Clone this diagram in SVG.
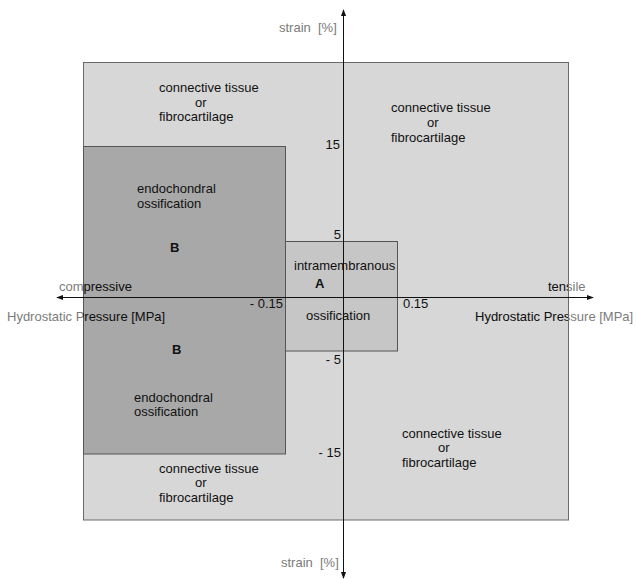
<svg xmlns="http://www.w3.org/2000/svg" width="636" height="579" viewBox="0 0 636 579">
<style>
text{font-family:"Liberation Sans",Arial,sans-serif;font-size:13px;fill:#111}
.b{font-weight:bold}
.g{fill:#7a7a7a}
.h{fill:url(#hg)}
.ax{stroke:#111;stroke-width:1;fill:none}
</style>
<defs>
<linearGradient id="hg" gradientUnits="userSpaceOnUse" x1="0" y1="0" x2="636" y2="0">
<stop offset="0" stop-color="#7a7a7a"/>
<stop offset="0.1305" stop-color="#7a7a7a"/>
<stop offset="0.1305" stop-color="#111"/>
<stop offset="0.893" stop-color="#111"/>
<stop offset="0.893" stop-color="#7a7a7a"/>
<stop offset="1" stop-color="#7a7a7a"/>
</linearGradient>
<marker id="ah" viewBox="0 0 8 8" refX="7" refY="4" markerWidth="7" markerHeight="7" orient="auto-start-reverse" markerUnits="userSpaceOnUse">
<path d="M0,1 L8,4 L0,7 Z" fill="#111"/>
</marker>
</defs>
<rect width="636" height="579" fill="#fff"/>
<g id="region-outer">
<rect x="83.5" y="62.5" width="485" height="457.5" fill="#d7d7d7" stroke="#6a6a6a" stroke-width="1"/>
<text x="159" y="92">connective tissue</text>
<text x="195" y="107">or</text>
<text x="159" y="121">fibrocartilage</text>
<text x="391" y="112">connective tissue</text>
<text x="427" y="127">or</text>
<text x="391" y="142">fibrocartilage</text>
<text x="159" y="473">connective tissue</text>
<text x="195" y="487">or</text>
<text x="159" y="502">fibrocartilage</text>
<text x="402" y="438">connective tissue</text>
<text x="438" y="452">or</text>
<text x="402" y="467">fibrocartilage</text>
</g>
<g id="region-B">
<rect x="83.5" y="146.5" width="202" height="307.5" fill="#a8a8a8" stroke="#555" stroke-width="1"/>
<text x="137" y="193">endochondral</text>
<text x="137" y="208">ossification</text>
<text x="170" y="252" class="b">B</text>
<text x="172" y="354" class="b">B</text>
<text x="134" y="402">endochondral</text>
<text x="134" y="416">ossification</text>
</g>
<g id="region-A">
<rect x="285.5" y="241.5" width="112" height="109.5" fill="#c6c6c6" stroke="#555" stroke-width="1"/>
<text x="294" y="270">intramembranous</text>
<text x="315" y="288" class="b">A</text>
<text x="306" y="320">ossification</text>
</g>
<g id="connectors">
<line class="ax" x1="343.5" y1="578" x2="343.5" y2="10" marker-start="url(#ah)" marker-end="url(#ah)"/>
<line class="ax" x1="57" y1="297.5" x2="593" y2="297.5" marker-start="url(#ah)" marker-end="url(#ah)"/>
</g>
<g id="axis-labels">
<text x="279" y="32" class="g" xml:space="preserve">strain  [%]</text>
<text x="281" y="567" class="g" xml:space="preserve">strain  [%]</text>
<text x="340" y="149" text-anchor="end">15</text>
<text x="341" y="239" text-anchor="end">5</text>
<text x="341" y="364" text-anchor="end">- 5</text>
<text x="341" y="457" text-anchor="end">- 15</text>
<text x="283" y="308" text-anchor="end">- 0.15</text>
<text x="403" y="308">0.15</text>
<text x="59" y="291" class="h">compressive</text>
<text x="548" y="291" class="h">tensile</text>
<text x="7" y="321" class="h">Hydrostatic Pressure [MPa]</text>
<text x="475" y="321" class="h">Hydrostatic Pressure [MPa]</text>
</g>
</svg>
